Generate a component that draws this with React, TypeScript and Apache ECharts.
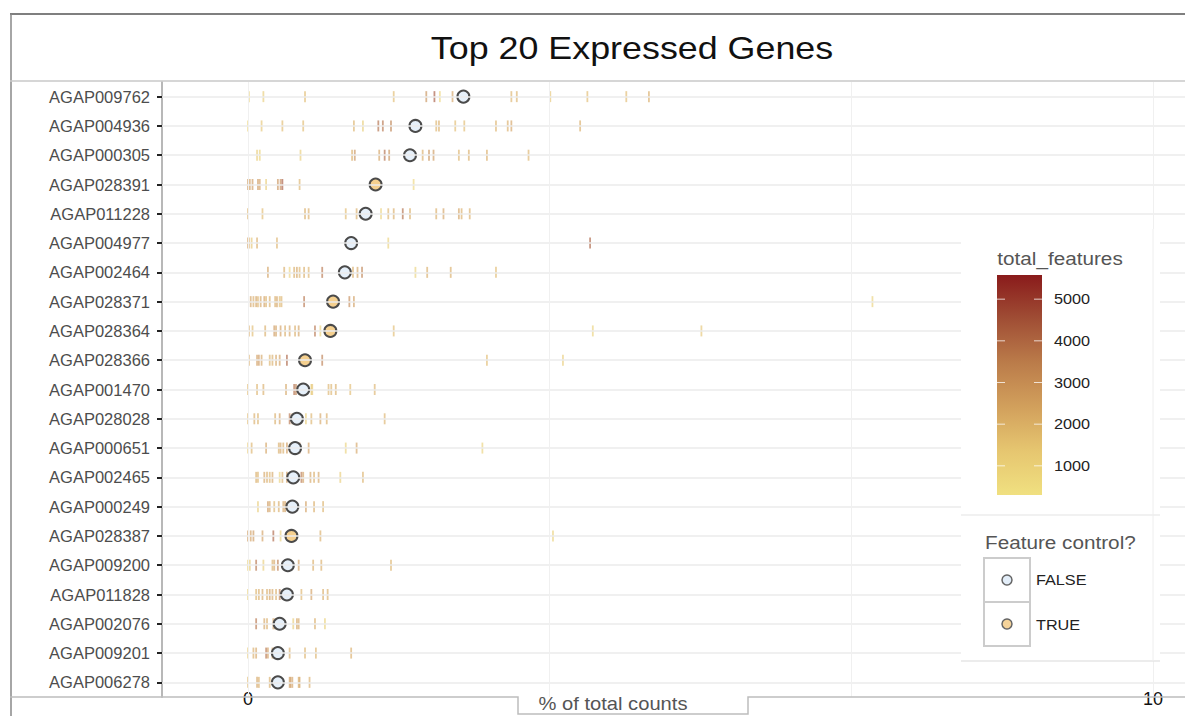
import React, { useEffect, useRef } from "react";
import * as echarts from "echarts";

const genes = [
  "AGAP009762", "AGAP004936", "AGAP000305", "AGAP028391", "AGAP011228", "AGAP004977",
  "AGAP002464", "AGAP028371", "AGAP028364", "AGAP028366", "AGAP001470", "AGAP028028",
  "AGAP000651", "AGAP002465", "AGAP000249", "AGAP028387", "AGAP009200", "AGAP011828",
  "AGAP002076", "AGAP009201", "AGAP006278",
];
const geneMeanPct = [2.38, 1.85, 1.79, 1.41, 1.3, 1.14, 1.07, 0.94, 0.91, 0.63, 0.61, 0.54, 0.52, 0.5, 0.49, 0.48, 0.44, 0.43, 0.35, 0.33, 0.33];
const featureControl = [false, false, false, true, false, false, false, true, true, true, false, false, false, false, false, true, false, false, false, false, false];

const cellPct = [
  [0.01, 0.17, 0.63, 1.61, 1.97, 2.06, 2.12, 2.26, 2.91, 2.97, 3.34, 3.75, 4.18, 4.43],
  [0.0, 0.15, 0.38, 0.61, 1.17, 1.27, 1.44, 1.49, 1.58, 2.08, 2.11, 2.29, 2.39, 2.74, 2.87, 2.91, 3.67],
  [0.1, 0.13, 0.58, 1.15, 1.18, 1.45, 1.51, 1.56, 1.75, 1.93, 2.0, 2.05, 2.33, 2.44, 2.64, 3.1],
  [0.0, 0.02, 0.05, 0.11, 0.13, 0.2, 0.33, 0.36, 0.38, 0.57, 1.83],
  [0.0, 0.16, 0.63, 0.67, 1.08, 1.2, 1.47, 1.55, 1.61, 1.71, 1.79, 2.08, 2.16, 2.33, 2.36, 2.45],
  [0.0, 0.01, 0.04, 0.1, 0.32, 1.55, 3.78],
  [0.22, 0.4, 0.46, 0.51, 0.54, 0.57, 0.62, 0.67, 0.82, 1.16, 1.21, 1.26, 1.85, 1.98, 2.24, 2.74],
  [0.03, 0.06, 0.09, 0.11, 0.14, 0.18, 0.2, 0.24, 0.3, 0.32, 0.35, 0.37, 0.62, 1.12, 1.17, 6.9],
  [0.01, 0.05, 0.19, 0.29, 0.31, 0.36, 0.41, 0.46, 0.52, 0.56, 0.74, 0.8, 1.61, 3.81, 5.01],
  [0.01, 0.1, 0.12, 0.15, 0.24, 0.27, 0.31, 0.35, 0.43, 0.82, 2.64, 3.48],
  [0.0, 0.1, 0.17, 0.42, 0.51, 0.53, 0.7, 0.71, 0.89, 0.92, 0.97, 1.13, 1.4],
  [0.0, 0.07, 0.11, 0.3, 0.35, 0.46, 0.49, 0.64, 0.7, 0.8, 0.87, 1.51],
  [0.0, 0.04, 0.2, 0.34, 0.36, 0.39, 0.43, 0.47, 0.57, 0.67, 1.08, 1.2, 2.59],
  [0.09, 0.11, 0.18, 0.21, 0.24, 0.27, 0.35, 0.38, 0.43, 0.59, 0.61, 0.69, 0.73, 0.78, 1.02, 1.27],
  [0.11, 0.22, 0.24, 0.29, 0.34, 0.39, 0.41, 0.64, 0.73, 0.83],
  [0.0, 0.03, 0.06, 0.16, 0.28, 0.36, 0.8, 3.37],
  [0.0, 0.02, 0.09, 0.17, 0.27, 0.29, 0.33, 0.56, 0.72, 0.81, 1.58],
  [0.0, 0.09, 0.12, 0.16, 0.21, 0.24, 0.27, 0.31, 0.35, 0.59, 0.7, 0.83, 0.88],
  [0.09, 0.18, 0.21, 0.28, 0.3, 0.5, 0.54, 0.56, 0.74, 0.85],
  [0.0, 0.06, 0.09, 0.2, 0.22, 0.27, 0.29, 0.46, 0.63, 0.75, 1.14],
  [0.0, 0.1, 0.12, 0.24, 0.31, 0.46, 0.47, 0.49, 0.56, 0.57, 0.68],
];
const cellTotalFeatures = [
  [1000, 1200, 1800, 1800, 3000, 4500, 800, 2500, 2000, 2000, 1500, 1800, 1800, 2200],
  [800, 1500, 1800, 1800, 2000, 1200, 4000, 3800, 3500, 2000, 2200, 1800, 1800, 2000, 2200, 2500, 2200],
  [1200, 1000, 1200, 2200, 3000, 2500, 4000, 3000, 1500, 2200, 3000, 2800, 2000, 2200, 2200, 2000],
  [2800, 2600, 2800, 2800, 2600, 1200, 3000, 3200, 4500, 2000, 800],
  [2000, 1800, 2200, 2200, 1800, 2200, 900, 2000, 2200, 4000, 2200, 2200, 2500, 2500, 2200, 2200],
  [2500, 2200, 1500, 2200, 2000, 1000, 4200],
  [2500, 2200, 900, 2200, 2400, 2000, 2200, 2000, 3800, 2200, 2400, 3500, 1000, 2200, 2200, 1800],
  [2500, 2200, 2500, 2000, 2400, 2600, 2000, 2200, 2200, 2500, 1800, 2000, 3800, 3200, 2600, 1000],
  [2200, 1800, 2200, 2800, 2500, 2600, 2200, 2400, 2200, 2500, 3800, 1000, 1800, 1000, 1500],
  [2200, 2600, 2800, 2400, 2000, 2200, 2400, 2600, 4200, 3600, 1800, 1200],
  [1800, 2000, 2200, 2400, 4000, 3500, 1200, 1500, 2000, 2000, 2200, 1800, 2000],
  [1800, 2200, 2000, 2200, 2500, 3800, 2600, 1200, 2000, 2400, 2200, 2000],
  [1200, 2000, 2400, 2200, 2400, 2200, 2600, 2000, 3600, 2600, 1000, 2400, 1000],
  [2200, 2000, 2400, 2200, 2000, 2400, 1000, 2200, 2600, 3800, 2600, 2400, 2200, 2400, 1200, 2000],
  [1200, 2800, 2400, 2000, 2200, 2400, 2600, 2600, 2200, 2000],
  [2800, 2600, 2800, 2600, 4200, 1200, 2200, 1000],
  [1000, 1200, 3800, 1200, 2200, 2400, 3600, 2600, 2200, 2200, 2000],
  [1000, 2000, 2200, 2400, 2200, 2600, 2400, 2200, 3600, 2000, 2600, 2200, 2200],
  [3800, 2400, 2200, 2600, 2200, 1200, 2400, 2400, 2200, 1000],
  [1200, 2200, 2400, 3800, 2600, 2400, 2200, 2200, 2000, 2000, 2200],
  [1800, 2400, 2200, 2200, 2600, 2400, 2800, 2600, 2200, 2400, 2200],
];

const xGridValues = [0, 10 / 3, 20 / 3, 10];
const xLabelValues = [0, 10];
const colorbarTicks = [1000, 2000, 3000, 4000, 5000];
const tfMin = 300;
const tfMax = 5580;
const tfColors = ["#F0E080", "#E6C670", "#D2A05C", "#BB7C4A", "#A04E35", "#8A1B1B"];

const FONT = '"Liberation Sans", Arial, Helvetica, sans-serif';

export default function App() {
  const ref = useRef<HTMLDivElement>(null);

  useEffect(() => {
    document.body.style.margin = "0";
    if (!ref.current) return;
    const chart = echarts.init(ref.current, undefined, { renderer: "svg" });

    const tickData: any[] = [];
    genes.forEach((g, i) => {
      cellPct[i].forEach((v, j) => tickData.push([v, g, cellTotalFeatures[i][j]]));
    });
    const falseData = genes.map((g, i) => (featureControl[i] ? null : [geneMeanPct[i], g])).filter(Boolean);
    const trueData = genes.map((g, i) => (featureControl[i] ? [geneMeanPct[i], g] : null)).filter(Boolean);

    const gridLeft = 162;
    const gridTop = 82;
    const gridBottom = 19;
    const pxPerUnit = 90.5;
    const zeroPx = 248;
    const xMin = (gridLeft - zeroPx) / pxPerUnit;
    const xMax = (1185 - zeroPx) / pxPerUnit;

    const cbX = 997, cbY = 275, cbW = 45, cbH = 220;
    const tfToY = (v: number) => cbY + cbH - ((v - tfMin) / (tfMax - tfMin)) * cbH;
    const SX = 1.12;

    const graphic: any[] = [
      { type: "line", z: 100, shape: { x1: 10, y1: 14, x2: 1185, y2: 14 }, style: { stroke: "#555", lineWidth: 1.5 } },
      { type: "line", z: 100, shape: { x1: 11, y1: 14, x2: 11, y2: 716 }, style: { stroke: "#888", lineWidth: 1.5 } },
      { type: "line", z: 100, shape: { x1: 10, y1: 81, x2: 1185, y2: 81 }, style: { stroke: "#c8c8c8", lineWidth: 1.5 } },
      {
        type: "polyline", z: 100,
        shape: { points: [[10, 697], [518, 697], [518, 714], [748, 714], [748, 697], [1185, 697]] },
        style: { stroke: "#bdbdbd", lineWidth: 1.5, fill: null },
      },
      {
        type: "text", z: 100, x: 632, y: 48, scaleX: SX,
        style: { text: "Top 20 Expressed Genes", font: `32px ${FONT}`, fill: "#111", align: "center", verticalAlign: "middle" },
      },
      {
        type: "text", z: 100, x: 613, y: 704, scaleX: SX,
        style: { text: "% of total counts", font: `18px ${FONT}`, fill: "#555", align: "center", verticalAlign: "middle" },
      },
      { type: "rect", z: 90, shape: { x: 961, y: 229, width: 199, height: 432 }, style: { fill: "#fff" } },
      { type: "line", z: 91, shape: { x1: 961, y1: 661, x2: 1160, y2: 661 }, style: { stroke: "#e6e6e6", lineWidth: 1.5 } },
      { type: "line", z: 91, shape: { x1: 961, y1: 515, x2: 1160, y2: 515 }, style: { stroke: "#ececec", lineWidth: 1.5 } },
      { type: "line", z: 91, shape: { x1: 1153, y1: 229, x2: 1153, y2: 661 }, style: { stroke: "#eeeeee", lineWidth: 1 } },
      {
        type: "text", z: 100, x: 1060, y: 258, scaleX: SX,
        style: { text: "total_features", font: `18.5px ${FONT}`, fill: "#555", align: "center", verticalAlign: "middle" },
      },
      {
        type: "rect", z: 100, shape: { x: cbX, y: cbY, width: cbW, height: cbH },
        style: {
          fill: new echarts.graphic.LinearGradient(0, 0, 0, 1,
            tfColors.slice().reverse().map((c, i) => ({ offset: i / (tfColors.length - 1), color: c }))),
        },
      },
      ...colorbarTicks.flatMap((v) => [
        { type: "line", z: 101, shape: { x1: cbX, y1: tfToY(v), x2: cbX + 8, y2: tfToY(v) }, style: { stroke: "rgba(255,255,255,0.75)", lineWidth: 1 } },
        { type: "line", z: 101, shape: { x1: cbX + cbW - 8, y1: tfToY(v), x2: cbX + cbW, y2: tfToY(v) }, style: { stroke: "rgba(255,255,255,0.75)", lineWidth: 1 } },
        {
          type: "text", z: 101, x: 1054, y: tfToY(v), scaleX: SX,
          style: { text: String(v), font: `14.5px ${FONT}`, fill: "#222", align: "left", verticalAlign: "middle" },
        },
      ]),
      {
        type: "text", z: 100, x: 985, y: 542, scaleX: SX,
        style: { text: "Feature control?", font: `18.5px ${FONT}`, fill: "#555", align: "left", verticalAlign: "middle" },
      },
      { type: "rect", z: 100, shape: { x: 984, y: 558, width: 46, height: 44 }, style: { fill: "#fff", stroke: "#cccccc", lineWidth: 2 } },
      { type: "rect", z: 100, shape: { x: 984, y: 602, width: 46, height: 44 }, style: { fill: "#fff", stroke: "#cccccc", lineWidth: 2 } },
      { type: "circle", z: 101, shape: { cx: 1007, cy: 580, r: 5 }, style: { fill: "#E3EEF9", stroke: "#666", lineWidth: 1.5 } },
      { type: "circle", z: 101, shape: { cx: 1007, cy: 624, r: 5 }, style: { fill: "#F5D39A", stroke: "#666", lineWidth: 1.5 } },
      {
        type: "text", z: 101, x: 1036, y: 580, scaleX: SX,
        style: { text: "FALSE", font: `14.5px ${FONT}`, fill: "#222", align: "left", verticalAlign: "middle" },
      },
      {
        type: "text", z: 101, x: 1036, y: 625, scaleX: SX,
        style: { text: "TRUE", font: `14.5px ${FONT}`, fill: "#222", align: "left", verticalAlign: "middle" },
      },
    ];

    chart.setOption({
      animation: false,
      backgroundColor: "#fff",
      textStyle: { fontFamily: FONT },
      grid: { left: gridLeft, right: 0, top: gridTop, bottom: gridBottom, containLabel: false },
      xAxis: {
        type: "value",
        min: xMin,
        max: xMax,
        splitLine: { show: false },
        axisLine: { show: false, onZero: false },
        axisTick: { show: false },
        axisLabel: {
          customValues: xLabelValues,
          color: "#111",
          fontSize: 18,
          margin: -7,
          fontFamily: FONT,
        },
      },
      yAxis: {
        type: "category",
        data: genes,
        inverse: true,
        axisLine: { show: true, onZero: false, lineStyle: { color: "#b8b8b8", width: 2 } },
        axisTick: { show: true, alignWithLabel: true, length: 5, lineStyle: { color: "#222", width: 2 } },
        axisLabel: { color: "#4d4d4d", fontSize: 16.5, margin: 12, fontFamily: FONT },
        splitLine: { show: false },
      },
      visualMap: {
        type: "continuous",
        show: false,
        seriesIndex: 1,
        dimension: 2,
        min: tfMin,
        max: tfMax,
        inRange: { color: tfColors },
      },
      series: [
        {
          type: "scatter",
          data: [],
          z: 1,
          silent: true,
          markLine: {
            silent: true,
            symbol: ["none", "none"],
            label: { show: false },
            animation: false,
            data: [
              ...genes.map((g) => ({ yAxis: g, lineStyle: { color: "#ebebeb", width: 1.6, type: "solid" } })),
              ...xGridValues.map((v) => ({ xAxis: v, lineStyle: { color: "#f0f0f0", width: 1, type: "solid" } })),
            ],
          },
        },
        {
          name: "cells",
          type: "scatter",
          z: 2,
          symbol: "rect",
          symbolSize: [1.8, 11],
          itemStyle: { opacity: 0.62 },
          data: tickData,
          encode: { x: 0, y: 1 },
        },
        {
          name: "FALSE",
          type: "scatter",
          z: 3,
          symbol: "circle",
          symbolSize: 12,
          itemStyle: { color: "#E6F0FA", borderColor: "#4a4a4a", borderWidth: 2, opacity: 1 },
          data: falseData,
        },
        {
          name: "TRUE",
          type: "scatter",
          z: 3,
          symbol: "circle",
          symbolSize: 12,
          itemStyle: { color: "#F5D08F", borderColor: "#4a4a4a", borderWidth: 2, opacity: 1 },
          data: trueData,
        },
      ],
      graphic,
    });

    return () => chart.dispose();
  }, []);

  return <div ref={ref} style={{ width: 1185, height: 716 }} />;
}
